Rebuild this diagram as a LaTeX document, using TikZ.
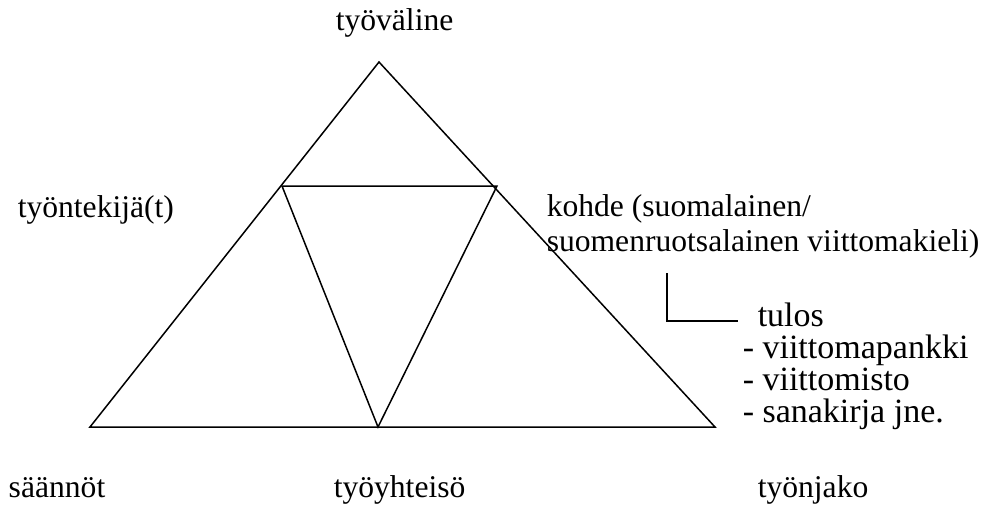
\documentclass[tikz,border=0pt]{standalone}
\usepackage{fontspec}
\setmainfont{Liberation Serif}
\begin{document}
\begin{tikzpicture}[x=1pt,y=-1pt,line width=1.5pt,
  lbl/.style={inner sep=0pt,anchor=base west,font=\fontsize{31.6}{36}\selectfont},
  item/.style={inner sep=0pt,anchor=base west,font=\fontsize{34}{36}\selectfont,
    text height=0.7em,text depth=0.2em}]
\useasboundingbox[fill=white] (0,0) rectangle (988,519);
% outer triangle
\coordinate (A) at (379,62);
\coordinate (B) at (90,427);
\coordinate (C) at (715,427);
% inner triangle
\coordinate (P) at (282,186);
\coordinate (Q) at (497,186);
\coordinate (R) at (378,427);
\draw (B) -- (A) -- (C) -- cycle;
\draw (P) -- (Q) -- (R) -- cycle;
% labels
\node[lbl] (tyovaline) at (335,31) {työväline};
\node[lbl] (tyontekija) at (17,217) {työntekijä(t)};
\node[lbl] (kohde1) at (546,216) {kohde (suomalainen/};
\node[lbl] (kohde2) at (546,251) {suomenruotsalainen viittomakieli)};
\node[item] (tulos) at (757,326) {tulos};
\node[item] (t1) at (742,358) {- viittomapankki};
\node[item] (t2) at (742,390) {- viittomisto};
\node[item] (t3) at (742,422) {- sanakirja jne.};
\node[lbl] (saannot) at (8,497) {säännöt};
\node[lbl] (tyoyhteiso) at (333,497) {työyhteisö};
\node[lbl] (tyonjako) at (757,497) {työnjako};
% connector
\coordinate (L1) at (667,273);
\coordinate (L3) at (738,321);
\draw (L1) |- (L3);
\end{tikzpicture}
\end{document}
